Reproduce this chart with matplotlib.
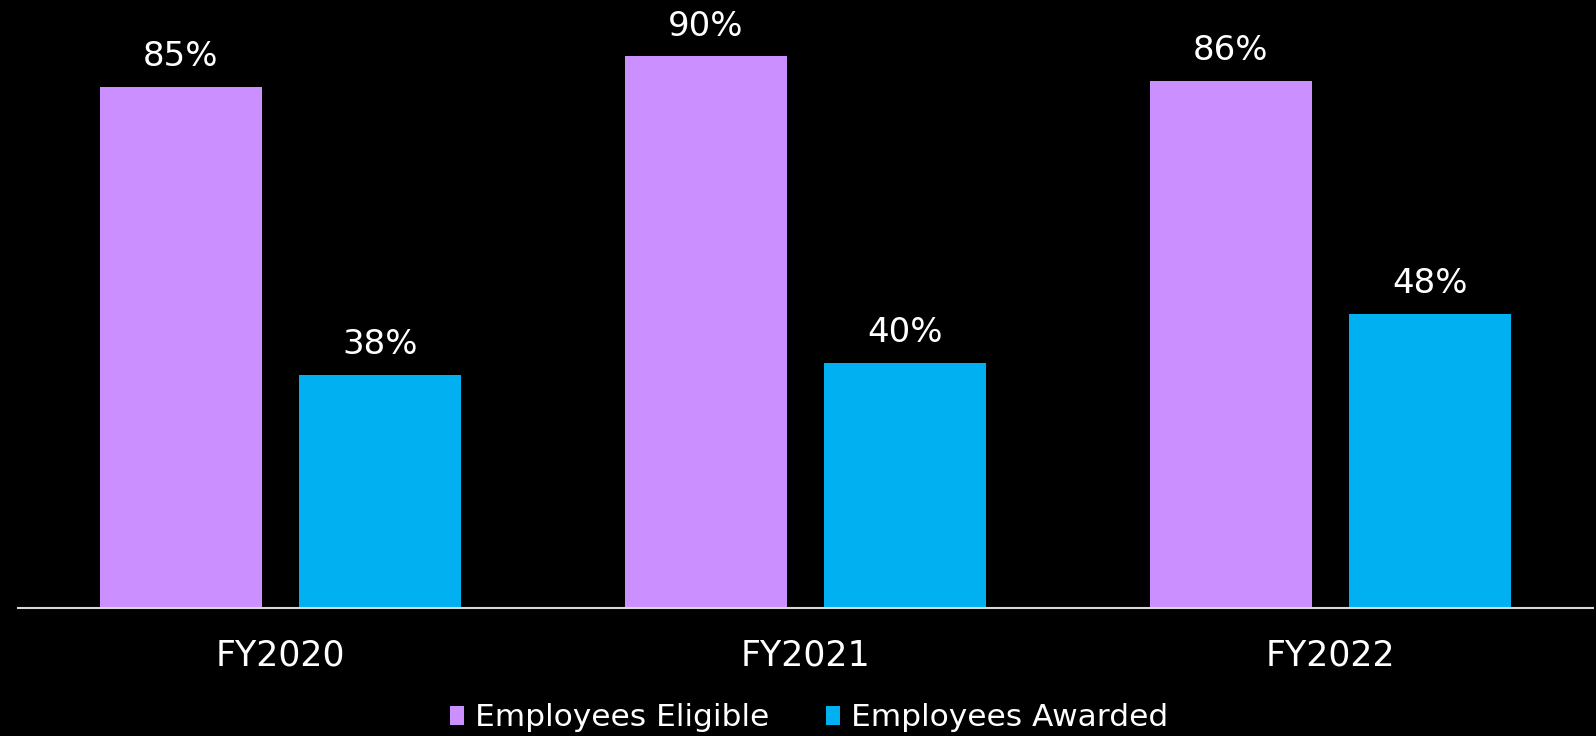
import numpy as np
import matplotlib.pyplot as plt

# data
years = ['FY2020', 'FY2021', 'FY2022']
eligible = [85, 90, 86]
awarded = [38, 40, 48]
series_names = ['Employees Eligible', 'Employees Awarded']

PURPLE = '#CC8FFF'
BLUE = '#00B0F0'
AXIS_GREY = '#D9D9D9'

plt.rcParams['font.family'] = ['DejaVu Sans']

fig = plt.figure(figsize=(15.96, 7.36), dpi=100, facecolor='black')
ax = fig.add_axes([18 / 1596, 128 / 736, 1575 / 1596, 608 / 736])
ax.set_facecolor('black')

x = np.arange(len(years))
width = 0.309
offset = 0.19

bars1 = ax.bar(x - offset, eligible, width, color=PURPLE, label=series_names[0])
bars2 = ax.bar(x + offset, awarded, width, color=BLUE, label=series_names[1])

# value labels above each bar
for bars, vals in [(bars1, eligible), (bars2, awarded)]:
    for b, v in zip(bars, vals):
        ax.annotate(f'{v}%', (b.get_x() + b.get_width() / 2, b.get_height()),
                    xytext=(0, 15), textcoords='offset points',
                    ha='center', va='baseline', color='white', fontsize=24.5)

ax.set_xlim(-0.5, 2.5)
ax.set_ylim(0, 99.2)
ax.set_xticks(x)
ax.set_xticklabels(years, color='white', fontsize=25)
ax.tick_params(axis='x', length=0, pad=22)
ax.set_yticks([])

for side in ['top', 'left', 'right']:
    ax.spines[side].set_visible(False)
ax.spines['bottom'].set_color(AXIS_GREY)
ax.spines['bottom'].set_linewidth(1.5)

leg = fig.legend(handles=[bars1, bars2], labels=series_names,
                 loc='center', bbox_to_anchor=(809 / 1596, 1 - 718 / 736),
                 ncol=2, frameon=False, fontsize=22.5,
                 handlelength=0.45, handleheight=0.58, handletextpad=0.35,
                 columnspacing=1.82, borderpad=0, borderaxespad=0)
for t in leg.get_texts():
    t.set_color('white')

fig.savefig('out.png', dpi=100, facecolor='black')
